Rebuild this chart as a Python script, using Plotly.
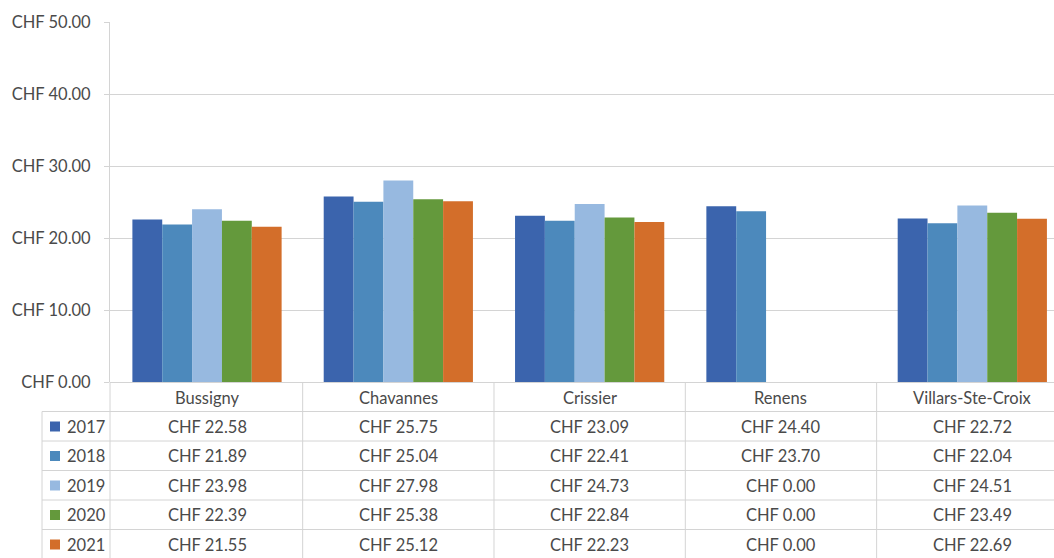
import plotly.graph_objects as go

categories = ["Bussigny", "Chavannes", "Crissier", "Renens", "Villars-Ste-Croix"]
years = ["2017", "2018", "2019", "2020", "2021"]
v2017 = [22.58, 25.75, 23.09, 24.40, 22.72]
v2018 = [21.89, 25.04, 22.41, 23.70, 22.04]
v2019 = [23.98, 27.98, 24.73, 0.00, 24.51]
v2020 = [22.39, 25.38, 22.84, 0.00, 23.49]
v2021 = [21.55, 25.12, 22.23, 0.00, 22.69]
series = [v2017, v2018, v2019, v2020, v2021]
colors = ["#3B64AD", "#4C89BC", "#97B9E0", "#64993C", "#D36E2A"]

W, H = 1054, 558
L, T, B = 110, 22, 176
plot_w = W - L
plot_h = H - T - B
FONT = "Lato"
FS = 16.5
TXT = "#4a4a4a"
LINE = "#d4d4d4"


def py(p):
    return (H - B - p) / plot_h


def px(p):
    return (p - L) / plot_w


fig = go.Figure()
for name, vals, c in zip(years, series, colors):
    fig.add_bar(x=categories, y=vals, name=name, marker_color=c, marker_line_width=0)

shapes = []
annotations = []

# table geometry
row_lines = [411.5, 441, 470.5, 500, 529.5]
row_centers = [426.5, 456, 485.5, 515, 544.5]
header_center = 397.5

for yl in row_lines:
    shapes.append(dict(type="line", xref="paper", yref="paper", x0=px(42), x1=1,
                       y0=py(yl), y1=py(yl), line=dict(color=LINE, width=1)))
shapes.append(dict(type="line", xref="paper", yref="paper", x0=px(42), x1=px(42),
                   y0=py(row_lines[0]), y1=py(H + 2), line=dict(color=LINE, width=1)))
shapes.append(dict(type="line", xref="paper", yref="paper", x0=0, x1=0,
                   y0=0, y1=py(H + 2), line=dict(color=LINE, width=1)))
for i in range(len(categories) - 1):
    shapes.append(dict(type="line", xref="x", yref="paper", x0=i + 0.5, x1=i + 0.5,
                       y0=0, y1=py(H + 2), line=dict(color=LINE, width=1)))

for cat in categories:
    annotations.append(dict(x=cat, xref="x", y=py(header_center), yref="paper",
                            text=cat, showarrow=False, xanchor="center", yanchor="middle",
                            font=dict(family=FONT, size=FS, color=TXT)))
for r, (name, vals, c) in enumerate(zip(years, series, colors)):
    yc = row_centers[r]
    for cat, v in zip(categories, vals):
        annotations.append(dict(x=cat, xref="x", y=py(yc), yref="paper",
                                text=f"CHF {v:.2f}", showarrow=False, xanchor="center",
                                yanchor="middle", font=dict(family=FONT, size=FS, color=TXT)))
    shapes.append(dict(type="rect", xref="paper", yref="paper", x0=px(50), x1=px(60),
                       y0=py(yc - 5), y1=py(yc + 5), fillcolor=c, line=dict(width=0)))
    annotations.append(dict(x=px(65), xref="paper", y=py(yc), yref="paper",
                            text=name, showarrow=False, xanchor="left", yanchor="middle",
                            font=dict(family=FONT, size=FS, color=TXT)))

fig.update_layout(
    width=W, height=H,
    margin=dict(l=L, r=0, t=T, b=B, pad=0),
    paper_bgcolor="white", plot_bgcolor="white",
    barmode="group", bargap=0.22, bargroupgap=0,
    showlegend=False,
    font=dict(family=FONT, size=FS, color=TXT),
    xaxis=dict(range=[-0.507, 4.427], showticklabels=False, showgrid=False,
               showline=False, zeroline=False, fixedrange=True),
    yaxis=dict(range=[0, 50], dtick=10, tickprefix="CHF ", tickformat=".2f",
               showgrid=True, gridcolor=LINE, gridwidth=1,
               showline=True, linecolor=LINE, linewidth=1,
               zeroline=True, zerolinecolor=LINE, zerolinewidth=1,
               ticks="outside", ticklen=5, tickcolor=LINE,
               ticklabelstandoff=10,
               tickfont=dict(family=FONT, size=FS, color=TXT), fixedrange=True),
    shapes=shapes,
    annotations=annotations,
)

fig.write_html(
    "out.html",
    config={"displayModeBar": False},
    post_script="document.body.style.margin='0';document.body.style.overflow='hidden';",
)
